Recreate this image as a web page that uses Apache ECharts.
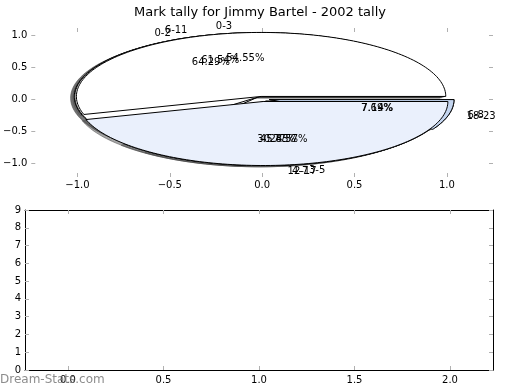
<!DOCTYPE html>
<html><head><meta charset="utf-8">
<script src="https://cdn.jsdelivr.net/npm/echarts@6/dist/echarts.min.js"></script>
<style>html,body{margin:0;padding:0;background:#fff}#c{width:520px;height:390px}</style>
</head><body><div id="c"></div>
<script>
const titleText = 'Mark tally for Jimmy Bartel - 2002 tally';
const watermark = 'Dream-Stats.com';
// three overlapping pies (drawn in this order, the last one on top)
const pieCLabels = ['0-2', '3-5', '6-8'];
const pieCCounts = [9, 4, 1];
const pieBLabels = ['6-11', '12-17', '18-23'];
const pieBCounts = [8, 4, 1];
const pieALabels = ['0-3', '4-7'];
const pieACounts = [6, 5];
const sliceColors = ['#ffffff', '#eaf0fc', '#c4d5ef'];
// tick labels
const pieTicks = [-1, -0.5, 0, 0.5, 1];
const lowerXTicks = [0, 0.5, 1, 1.5, 2];
const lowerYTicks = [0, 1, 2, 3, 4, 5, 6, 7, 8, 9];

const EXPLODE = 0.04, LABEL_R = 1.1, PCT_R = 0.6, SH = -0.02;
const pies = [
  {labels: pieCLabels, counts: pieCCounts},
  {labels: pieBLabels, counts: pieBCounts},
  {labels: pieALabels, counts: pieACounts}
];
const wedges = [];
pies.forEach(p => {
  const total = p.counts.reduce((a, b) => a + b, 0);
  let acc = 0;
  p.counts.forEach((c, i) => {
    const a0 = acc / total * 360;
    acc += c;
    const a1 = acc / total * 360;
    const mid = (a0 + a1) / 2 * Math.PI / 180;
    wedges.push({
      cx: EXPLODE * Math.cos(mid), cy: EXPLODE * Math.sin(mid),
      a0, a1, mid, color: sliceColors[i], label: p.labels[i],
      pct: (c / total * 100).toFixed(2) + '%'
    });
  });
});

function wedgePoints(api, w, dx, dy) {
  const pts = [api.coord([w.cx + dx, w.cy + dy])];
  const n = Math.max(6, Math.ceil((w.a1 - w.a0) / 1.5));
  for (let i = 0; i <= n; i++) {
    const a = (w.a0 + (w.a1 - w.a0) * i / n) * Math.PI / 180;
    pts.push(api.coord([w.cx + dx + Math.cos(a), w.cy + dy + Math.sin(a)]));
  }
  return pts;
}
const fmt = v => (v < 0 ? '\u2212' : '') + Math.abs(v).toFixed(1);
const FONT = 'DejaVu Sans';
const tickStyle = {lineStyle: {color: '#b0b0b0', width: 1}};

function axisBase(extra) {
  return Object.assign({
    type: 'value', splitLine: {show: false},
    axisLine: {show: false, onZero: false},
  }, extra);
}

const option = {
  animation: false,
  backgroundColor: '#fff',
  title: {text: titleText, left: 'center', top: 1,
    textStyle: {fontFamily: FONT, fontSize: 13, fontWeight: 'normal', color: '#000'}},
  grid: [
    {left: 25, top: 28, width: 468, height: 149},
    {left: 25, top: 210, width: 468, height: 160}
  ],
  xAxis: [
    axisBase({gridIndex: 0, position: 'bottom', min: -1.25, max: 1.25,
      axisTick: Object.assign({inside: true, length: 4, customValues: pieTicks}, tickStyle),
      axisLabel: {customValues: pieTicks, formatter: fmt, fontFamily: FONT, fontSize: 10, color: '#000', margin: 3}}),
    axisBase({gridIndex: 0, position: 'top', min: -1.25, max: 1.25,
      axisTick: Object.assign({inside: true, length: 4, customValues: pieTicks}, tickStyle),
      axisLabel: {show: false}}),
    axisBase({gridIndex: 1, position: 'bottom', min: -0.225, max: 2.225,
      axisLine: {show: true, onZero: false, lineStyle: {color: '#000', width: 1}},
      axisTick: Object.assign({inside: true, length: 4, customValues: lowerXTicks}, tickStyle),
      axisLabel: {customValues: lowerXTicks, formatter: fmt, fontFamily: FONT, fontSize: 10, color: '#000', margin: 5}}),
    axisBase({gridIndex: 1, position: 'top', min: -0.225, max: 2.225,
      axisLine: {show: true, onZero: false, lineStyle: {color: '#000', width: 1}},
      axisTick: Object.assign({inside: true, length: 4, customValues: lowerXTicks}, tickStyle),
      axisLabel: {show: false}})
  ],
  yAxis: [
    axisBase({gridIndex: 0, position: 'left', min: -1.219, max: 1.109,
      axisTick: Object.assign({inside: true, length: 4, customValues: pieTicks}, tickStyle),
      axisLabel: {customValues: pieTicks, formatter: fmt, fontFamily: FONT, fontSize: 10, color: '#000', margin: 4}}),
    axisBase({gridIndex: 0, position: 'right', min: -1.219, max: 1.109,
      axisTick: Object.assign({inside: true, length: 4, customValues: pieTicks}, tickStyle),
      axisLabel: {show: false}}),
    axisBase({gridIndex: 1, position: 'left', min: 0, max: 9,
      axisLine: {show: true, onZero: false, lineStyle: {color: '#000', width: 1}},
      axisTick: Object.assign({inside: true, length: 4, customValues: lowerYTicks}, tickStyle),
      axisLabel: {customValues: lowerYTicks, fontFamily: FONT, fontSize: 10, color: '#000', margin: 4}}),
    axisBase({gridIndex: 1, position: 'right', min: 0, max: 9,
      axisLine: {show: true, onZero: false, lineStyle: {color: '#000', width: 1}},
      axisTick: Object.assign({inside: true, length: 4, customValues: lowerYTicks}, tickStyle),
      axisLabel: {show: false}})
  ],
  graphic: [{
    type: 'text', left: 0, top: 374, z: 100,
    style: {text: watermark, fontFamily: FONT, fontSize: 12, fill: 'rgba(120,120,120,0.85)'}
  }],
  series: [
    {
      type: 'custom', xAxisIndex: 0, yAxisIndex: 0, z: 1, silent: true,
      data: wedges.map(w => [w.cx, w.cy]),
      renderItem: (params, api) => {
        const w = wedges[params.dataIndex];
        return {type: 'polygon', shape: {points: wedgePoints(api, w, SH, SH)},
          style: {fill: 'rgba(77,77,77,0.5)', stroke: 'rgba(77,77,77,0.5)', lineWidth: 1}};
      }
    },
    {
      type: 'custom', xAxisIndex: 0, yAxisIndex: 0, z: 2, silent: true,
      data: wedges.map(w => [w.cx, w.cy]),
      renderItem: (params, api) => {
        const w = wedges[params.dataIndex];
        return {type: 'polygon', shape: {points: wedgePoints(api, w, 0, 0)},
          style: {fill: w.color, stroke: '#000', lineWidth: 1}};
      }
    },
    {
      type: 'custom', xAxisIndex: 0, yAxisIndex: 0, z: 3, silent: true,
      data: wedges.map(w => [w.cx, w.cy]),
      renderItem: (params, api) => {
        const w = wedges[params.dataIndex];
        const lx = w.cx + LABEL_R * Math.cos(w.mid), ly = w.cy + LABEL_R * Math.sin(w.mid);
        const px = w.cx + PCT_R * Math.cos(w.mid), py = w.cy + PCT_R * Math.sin(w.mid);
        const lp = api.coord([lx, ly]), pp = api.coord([px, py]);
        return {type: 'group', children: [
          {type: 'text', x: lp[0], y: lp[1], style: {text: w.label, fontFamily: FONT, fontSize: 10, fill: '#000',
            align: lx > 0 ? 'left' : 'right', verticalAlign: 'middle'}},
          {type: 'text', x: pp[0], y: pp[1], style: {text: w.pct, fontFamily: FONT, fontSize: 10, fill: '#000',
            align: 'center', verticalAlign: 'middle'}}
        ]};
      }
    }
  ]
};
const chart = echarts.init(document.getElementById('c'), null, {renderer: 'canvas'});
chart.setOption(option);
</script></body></html>
